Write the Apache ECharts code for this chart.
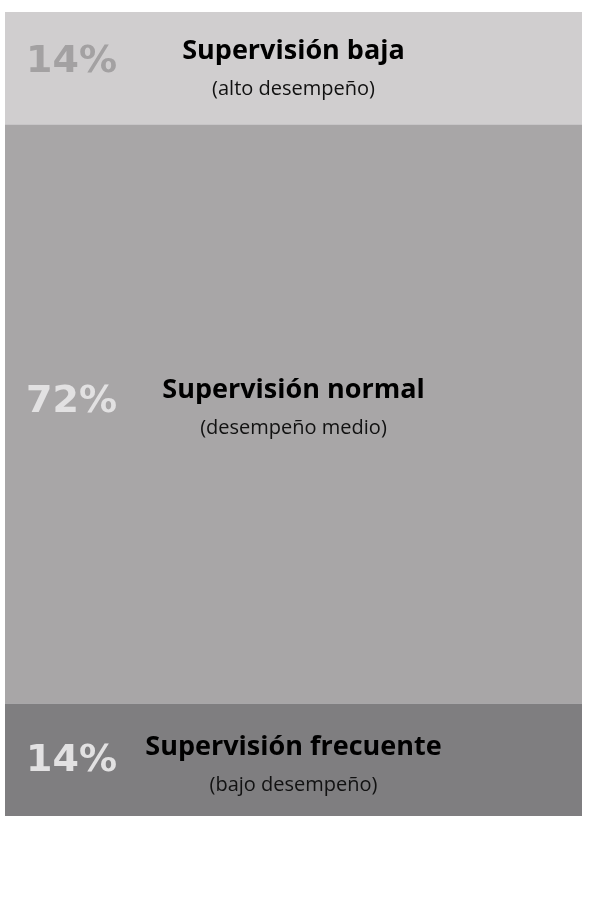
<!DOCTYPE html>
<html>
<head>
<meta charset="utf-8">
<script src="https://cdn.jsdelivr.net/npm/echarts@6/dist/echarts.min.js"></script>
<style>
  html, body { margin: 0; padding: 0; background: #fff; }
  #chart { width: 589px; height: 900px; }
</style>
</head>
<body>
<div id="chart"></div>
<script>
// data, top to bottom
const categories = ['Supervisión']
const levels = ['Supervisión baja', 'Supervisión normal', 'Supervisión frecuente']
const notes = ['(alto desempeño)', '(desempeño medio)', '(bajo desempeño)']
const shares = [14, 72, 14]

const fills = ['#d0cecf', '#a8a6a7', '#7f7e80']
const pctColors = ['#a3a1a2', '#e2e1e2', '#e2e1e2']
const pctOffsets = [[0, -6], [0, -12], [0, 1]]
const textOffsets = [[0, 1], [0, -6], [0, 6]]

const chart = echarts.init(document.getElementById('chart'))

const series = []
// main segments with centred titles
shares.forEach((v, i) => {
  series.push({
    name: levels[i],
    type: 'bar',
    stack: 'main',
    barWidth: '100%',
    data: [v],
    itemStyle: { color: fills[i] },
    label: {
      show: true,
      position: 'inside',
      offset: textOffsets[i],
      formatter: '{t|' + levels[i] + '}\n{s|' + notes[i] + '}',
      rich: {
        t: { fontFamily: 'Open Sans', fontWeight: 'bold', fontSize: 27, color: '#000', lineHeight: 40, align: 'center' },
        s: { fontFamily: 'Open Sans', fontSize: 20, color: '#111', lineHeight: 36, align: 'center' }
      }
    },
    silent: true,
    animation: false
  })
})
// transparent twin stack for the big percent figures
shares.forEach((v, i) => {
  series.push({
    name: levels[i] + ' %',
    type: 'bar',
    stack: 'pct',
    barWidth: '100%',
    barGap: '-100%',
    data: [v],
    itemStyle: { color: 'transparent' },
    label: {
      show: true,
      position: 'insideLeft',
      distance: 21,
      offset: pctOffsets[i],
      formatter: v + '%',
      fontFamily: 'DejaVu Sans',
      fontWeight: 'bold',
      fontSize: 38,
      color: pctColors[i]
    },
    silent: true,
    animation: false
  })
})

chart.setOption({
  grid: { left: 5, right: 7, top: 12, bottom: 84 },
  xAxis: {
    type: 'category',
    data: categories,
    show: false
  },
  yAxis: {
    type: 'value',
    min: 0,
    max: 100,
    inverse: true,
    show: false
  },
  series
})
</script>
</body>
</html>
